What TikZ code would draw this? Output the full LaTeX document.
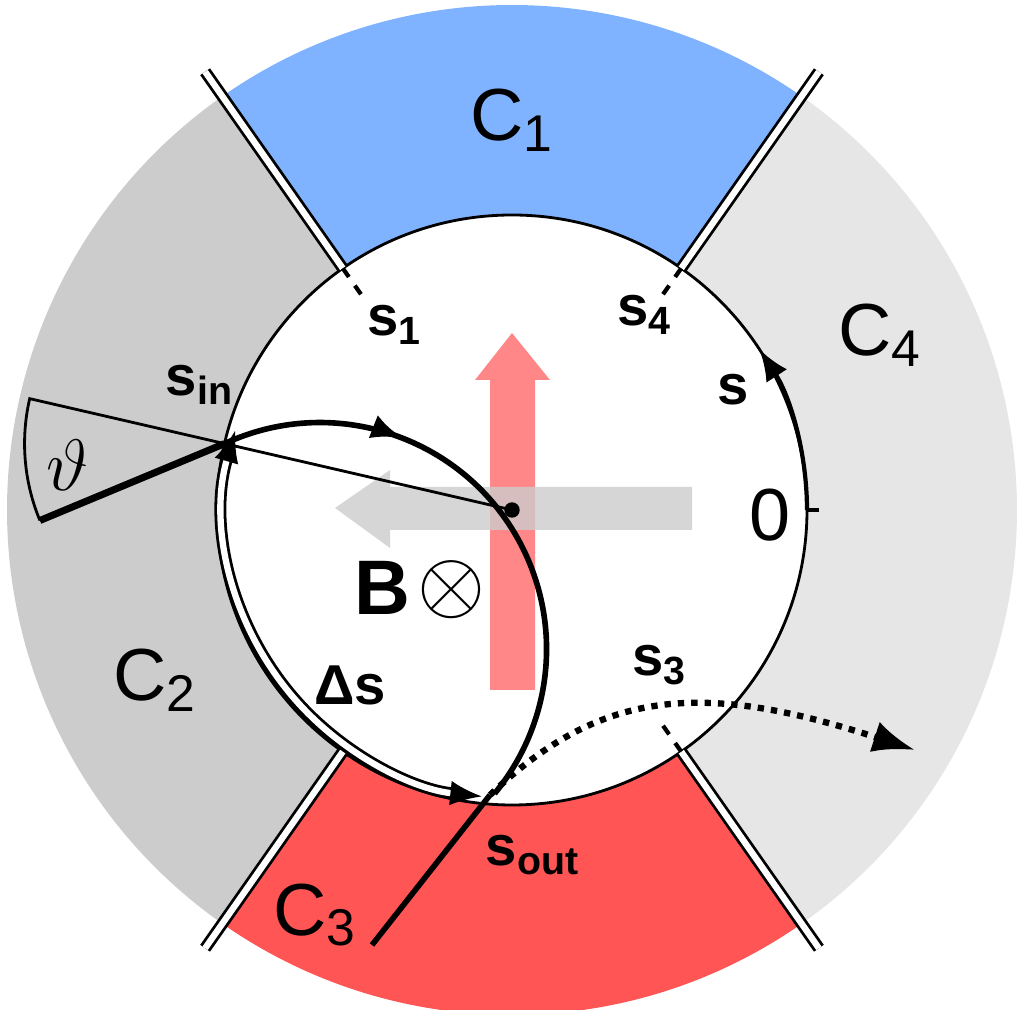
\documentclass[tikz,border=0pt]{standalone}
\usepackage{fontspec}
\setmainfont{Liberation Sans}
\usetikzlibrary{arrows.meta,calc,decorations.markings}
\definecolor{cblue}{RGB}{128,179,255}
\definecolor{cred}{RGB}{255,85,85}
\definecolor{cgrayA}{RGB}{204,204,204}
\definecolor{cgrayB}{RGB}{230,230,230}
\tikzset{
	big/.style={font=\fontsize{21}{21}\selectfont},
	lbl/.style={font=\fontsize{16}{16}\selectfont\bfseries},
	gapline/.style={draw=black,double=white,double distance=1.8pt,line width=0.8pt},
	traj/.style={line width=1.6pt},
	tip/.style={-{Latex[length=9pt,width=7pt]}}
}
\begin{document}
\begin{tikzpicture}
	\useasboundingbox (0,0) rectangle (10.24,10.10);
	\coordinate (O) at (5.12,5.0);
	\def\Rout{5.05}
	\def\Rin{2.95}
	
	% Sectors
	\fill[cblue] (O) -- ++(55:\Rout) arc (55:125:\Rout) -- cycle;
	\fill[cgrayA] (O) -- ++(125:\Rout) arc (125:235:\Rout) -- cycle;
	\fill[cred] (O) -- ++(235:\Rout) arc (235:305:\Rout) -- cycle;
	\fill[cgrayB] (O) -- ++(305:\Rout) arc (305:415:\Rout) -- cycle;
	\draw[fill=white,line width=0.8pt] (O) circle (\Rin);
	
	% Gaps between the sectors
	\foreach \a in {55,125,235,305} {
		\draw[gapline] ($(O)+(\a:\Rin)$) -- ($(O)+(\a:5.35)$);
	}
	\foreach \a in {55,125,305} {
		\draw[dashed,line width=1.2pt] ($(O)+(\a:\Rin)$) -- ($(O)+(\a:2.6)$);
	}
	
	% Translucent arrows
	\fill[cred,opacity=0.7] (4.90,3.20) -- (5.35,3.20) -- (5.35,6.30) -- (5.50,6.30)
		-- (5.12,6.77) -- (4.75,6.30) -- (4.90,6.30) -- cycle;
	\fill[cgrayA,opacity=0.8] (6.92,5.23) -- (3.90,5.23) -- (3.90,5.40) -- (3.35,5.02)
		-- (3.90,4.62) -- (3.90,4.80) -- (6.92,4.80) -- cycle;
	
	% Points on the boundary
	\coordinate (sin) at ($(O)+(167:\Rin)$);
	\coordinate (sout) at (4.90,2.15);
	\fill (O) circle (2.2pt);
	
	% Angle wedge
	\draw[line width=0.8pt] (sin) -- ++(167:2) arc (167:202.6:2);
	\draw[line width=2pt] (sin) -- ++(202.6:2);
	\draw[line width=0.8pt] (sin) -- (O);
	
	% Trajectory
	\draw[traj,decoration={markings,mark=at position 0.3 with {\arrow{Latex[length=9pt,width=7pt]}}},postaction={decorate}]
		(sin) arc (114.9:-39.6:2.266);
	\draw[traj] (sout) -- (3.72,0.65);
	\draw[dotted,line width=1.8pt,-{Latex[length=12pt,width=9pt]}] (sout) .. controls (6.0,3.2) and (7.0,3.3) .. (9.15,2.60);
	
	% Path length along boundary
	\draw[gapline,{Latex[length=9pt,width=7pt]}-{Latex[length=9pt,width=7pt]}] ($(O)+(164:2.88)$) arc (164:264:2.88);
	\draw[line width=1.2pt,tip] ($(O)+(0:\Rin)$) arc (0:33:\Rin);
	\draw[line width=1pt] ($(O)+(0:\Rin)$) -- ++(0.12,0);
	
	% Labels
	\node[big] (c1) at (5.12,8.9) {C\textsubscript{1}};
	\node[big] (c2) at (1.55,3.3) {C\textsubscript{2}};
	\node[big] (c3) at (3.15,0.95) {C\textsubscript{3}};
	\node[big] (c4) at (8.80,6.75) {C\textsubscript{4}};
	\node[lbl] (s1) at (3.95,6.85) {s\textsubscript{1}};
	\node[lbl] (s4) at (6.45,6.95) {s\textsubscript{4}};
	\node[lbl] (s3) at (6.60,3.45) {s\textsubscript{3}};
	\node[lbl] (si) at (2.00,6.25) {s\textsubscript{in}};
	\node[lbl] (so) at (5.33,1.55) {s\textsubscript{out}};
	\node[lbl] (s) at (7.33,6.20) {s};
	\node[big] (zero) at (7.70,4.95) {0};
	\node[big] (th) at (0.68,5.45) {$\vartheta$};
	\node[lbl] (ds) at (3.50,3.25) {Δs};
	\node[font=\fontsize{22}{22}\selectfont\bfseries] (b) at (3.82,4.22) {B};
	\node[font=\fontsize{28}{28}\selectfont] (otimes) at (4.52,4.20) {$\otimes$};
\end{tikzpicture}
\end{document}
